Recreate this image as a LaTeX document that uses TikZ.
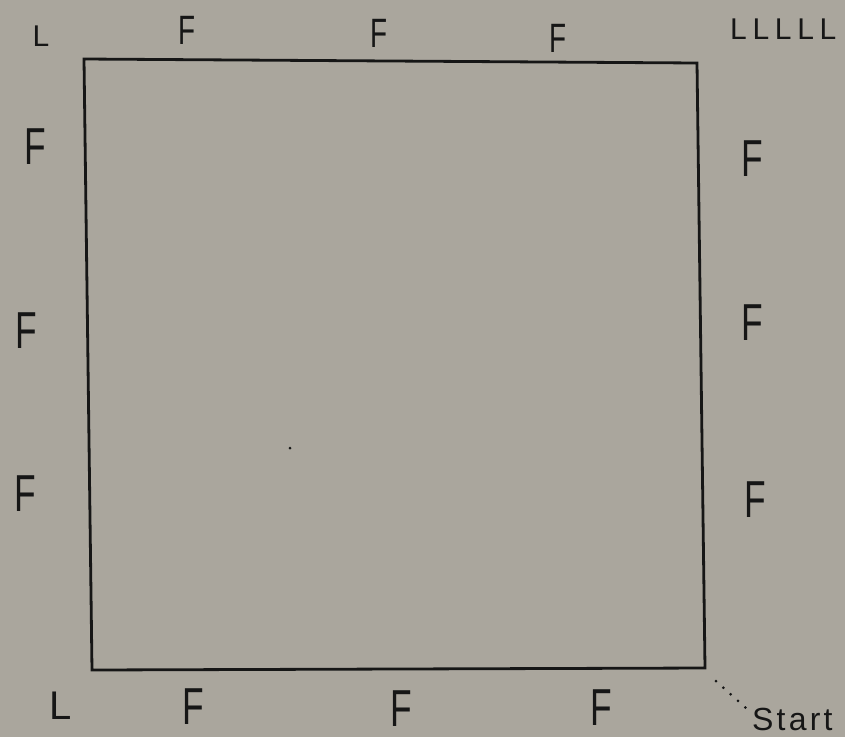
\documentclass[tikz,border=0pt]{standalone}
\usepackage{fontspec}
\setmainfont{Liberation Sans}
\newfontfamily\spacedA[LetterSpace=19]{Liberation Sans}
\newfontfamily\spacedB[LetterSpace=10]{Liberation Sans}
\definecolor{paper}{RGB}{170,166,157}
\definecolor{ink}{RGB}{22,22,22}
\newcommand{\narrowF}{\scalebox{0.68}[1]{F}}
\tikzset{
  lbl/.style={text=ink, inner sep=0pt, font=\fontsize{52}{54}\selectfont},
  lbltop/.style={text=ink, inner sep=0pt, font=\fontsize{41}{43}\selectfont},
  edge/.style={draw=ink, line width=2.8pt, line join=miter},
}
\begin{document}
\begin{tikzpicture}[x=1pt,y=-1pt]
\fill[paper] (0,0) rectangle (845,737);
\useasboundingbox (0,0) rectangle (845,737);
\coordinate (tl) at (84,59);
\coordinate (tr) at (697,63);
\coordinate (br) at (705,668);
\coordinate (bl) at (92,670);
\draw[edge] (tl) -- (tr) -- (br) -- (bl) -- cycle;
% top
\node[text=ink, inner sep=0pt, font=\fontsize{30}{32}\selectfont] (l1) at (41,36) {L};
\node[lbltop] (t1) at (187,30) {\narrowF};
\node[lbltop] (t2) at (379,33) {\narrowF};
\node[lbltop] (t3) at (558,38) {\narrowF};
\node[text=ink, inner sep=0pt, anchor=west, font=\fontsize{30}{32}\spacedA] (ll) at (730,29) {LLLLL};
% left
\node[lbl] (le1) at (35,147) {\narrowF};
\node[lbl] (le2) at (26,331) {\narrowF};
\node[lbl] (le3) at (25,494) {\narrowF};
% right
\node[lbl] (r1) at (752,159) {\narrowF};
\node[lbl] (r2) at (752,323) {\narrowF};
\node[lbl] (r3) at (755,500) {\narrowF};
% bottom
\node[text=ink, inner sep=0pt, font=\fontsize{40}{42}\selectfont] (l2) at (61,706) {L};
\node[lbl] (b1) at (193,707) {\narrowF};
\node[lbl] (b2) at (401,709) {\narrowF};
\node[lbl] (b3) at (601,708) {\narrowF};
\node[text=ink, inner sep=0pt, anchor=west, font=\fontsize{32}{34}\spacedB] (st) at (752,719) {Start};
% dotted leader from the start corner
\coordinate (s0) at (716,681);
\coordinate (s1) at (746,708);
\draw[ink, line width=3pt, dash pattern=on 0pt off 9.9pt, line cap=round] (s0) -- (s1);
% stray mark in the field
\fill[ink] (290,448) circle (1.5pt);
\end{tikzpicture}
\end{document}
